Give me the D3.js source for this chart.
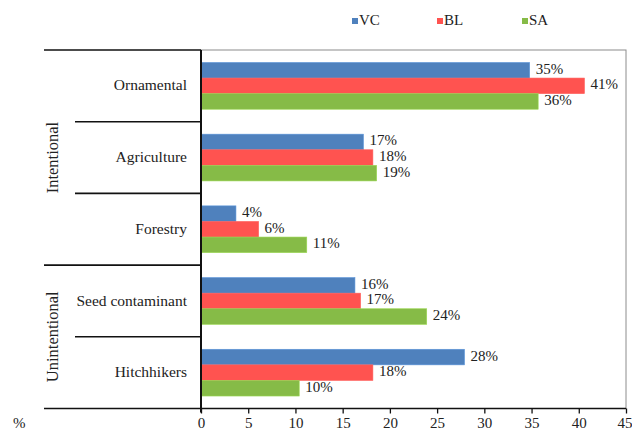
<!DOCTYPE html>
<html>
<head>
<meta charset="utf-8">
<script src="https://cdn.jsdelivr.net/npm/d3@7"></script>
<style>
  html, body { margin: 0; padding: 0; background: #fff; }
  svg text { font-family: "Liberation Serif", "Times New Roman", serif; fill: #222; }
</style>
</head>
<body>
<div id="chart"></div>
<script>
const categories = ["Ornamental", "Agriculture", "Forestry", "Seed contaminant", "Hitchhikers"];
const groups = [
  { name: "Intentional", members: ["Ornamental", "Agriculture", "Forestry"] },
  { name: "Unintentional", members: ["Seed contaminant", "Hitchhikers"] }
];
const seriesNames = ["VC", "BL", "SA"];
const seriesColors = ["#4f81bd", "#ff5350", "#86bb47"];
const vcValues = [34.8, 17.2, 3.7, 16.3, 27.9];
const blValues = [40.6, 18.2, 6.1, 16.9, 18.2];
const saValues = [35.7, 18.6, 11.2, 23.9, 10.4];
const vcLabels = ["35%", "17%", "4%", "16%", "28%"];
const blLabels = ["41%", "18%", "6%", "17%", "18%"];
const saLabels = ["36%", "19%", "11%", "24%", "10%"];
const xTicks = [0, 5, 10, 15, 20, 25, 30, 35, 40, 45];

const W = 632, H = 432;
const plot = { left: 201, right: 626, top: 50, bottom: 408.5 };
const tableLeft = 44, innerLeft = 75;

const svg = d3.select("#chart").append("svg").attr("width", W).attr("height", H);

const x = d3.scaleLinear().domain([0, 45]).range([plot.left, plot.right]);
const y = d3.scaleBand().domain(categories).range([plot.top, plot.bottom]).paddingInner(0).paddingOuter(0);
const ySub = d3.scaleBand().domain(seriesNames).range([0, y.bandwidth()]).paddingInner(0).paddingOuter(0.8);

const series = [
  { name: "VC", values: vcValues, labels: vcLabels },
  { name: "BL", values: blValues, labels: blLabels },
  { name: "SA", values: saValues, labels: saLabels }
];

// plot frame (grey)
svg.append("rect")
  .attr("x", plot.left).attr("y", plot.top)
  .attr("width", plot.right - plot.left).attr("height", plot.bottom - plot.top)
  .attr("fill", "none").attr("stroke", "#8c8c8c").attr("stroke-width", 1);

// bars
series.forEach((s, si) => {
  const g = svg.append("g");
  g.selectAll("rect")
    .data(categories)
    .enter().append("rect")
    .attr("x", x(0))
    .attr("y", (c) => y(c) + ySub(s.name))
    .attr("width", (c, i) => x(s.values[i]) - x(0))
    .attr("height", ySub.bandwidth())
    .attr("fill", seriesColors[si])
    .attr("stroke", d3.color(seriesColors[si]).brighter(0.4))
    .attr("stroke-width", 0.6);

  g.selectAll("text")
    .data(categories)
    .enter().append("text")
    .attr("x", (c, i) => x(s.values[i]) + 6)
    .attr("y", (c) => y(c) + ySub(s.name) + ySub.bandwidth() / 2)
    .attr("dominant-baseline", "middle")
    .attr("font-size", 15)
    .text((c, i) => s.labels[i]);
});

// x axis
const xAxis = d3.axisBottom(x).tickValues(xTicks).tickSize(5).tickSizeOuter(0);
const ax = svg.append("g").attr("transform", `translate(0,${plot.bottom})`).call(xAxis);
ax.select(".domain").remove();
ax.selectAll(".tick line").attr("stroke", "#111").attr("stroke-width", 1.3);
ax.selectAll(".tick text")
  .attr("y", 9)
  .attr("font-size", 15)
  .attr("fill", "#222");
ax.selectAll(".tick text").filter((d) => d === 45).attr("text-anchor", "end").attr("x", 6);

const lineCol = "#111";
const lw = 1.6;

// bottom axis line across the table
svg.append("line")
  .attr("x1", tableLeft).attr("x2", plot.right)
  .attr("y1", plot.bottom).attr("y2", plot.bottom)
  .attr("stroke", lineCol).attr("stroke-width", lw);

// vertical axis line
svg.append("line")
  .attr("x1", plot.left).attr("x2", plot.left)
  .attr("y1", plot.top).attr("y2", plot.bottom + 4)
  .attr("stroke", lineCol).attr("stroke-width", lw + 0.4);

// table lines: top, group separators (full), category separators (inner)
svg.append("line")
  .attr("x1", tableLeft).attr("x2", plot.left)
  .attr("y1", plot.top).attr("y2", plot.top)
  .attr("stroke", lineCol).attr("stroke-width", lw);

categories.forEach((c, i) => {
  if (i === 0) return;
  const isGroupStart = groups.some((g) => g.members[0] === c);
  svg.append("line")
    .attr("x1", isGroupStart ? tableLeft : innerLeft).attr("x2", plot.left)
    .attr("y1", y(c)).attr("y2", y(c))
    .attr("stroke", lineCol).attr("stroke-width", lw);
});

// category labels
svg.append("g").selectAll("text")
  .data(categories)
  .enter().append("text")
  .attr("x", 187)
  .attr("y", (c) => y(c) + y.bandwidth() / 2 + 1)
  .attr("text-anchor", "end")
  .attr("dominant-baseline", "middle")
  .attr("font-size", 15.5)
  .text((c) => c);

// group labels (rotated)
groups.forEach((g) => {
  const y0 = y(g.members[0]);
  const y1 = y(g.members[g.members.length - 1]) + y.bandwidth();
  const cy = (y0 + y1) / 2;
  svg.append("text")
    .attr("transform", `translate(54,${cy}) rotate(-90)`)
    .attr("text-anchor", "middle")
    .attr("dominant-baseline", "middle")
    .attr("font-size", 16.5)
    .text(g.name);
});

// % unit label
svg.append("text")
  .attr("x", 13).attr("y", 428)
  .attr("font-size", 15)
  .text("%");

// legend
const legendX = [352, 437, 522];
seriesNames.forEach((n, i) => {
  svg.append("rect")
    .attr("x", legendX[i]).attr("y", 18)
    .attr("width", 6).attr("height", 6)
    .attr("fill", seriesColors[i]);
  svg.append("text")
    .attr("x", legendX[i] + 7).attr("y", 25)
    .attr("font-size", 15)
    .text(n);
});
</script>
</body>
</html>
